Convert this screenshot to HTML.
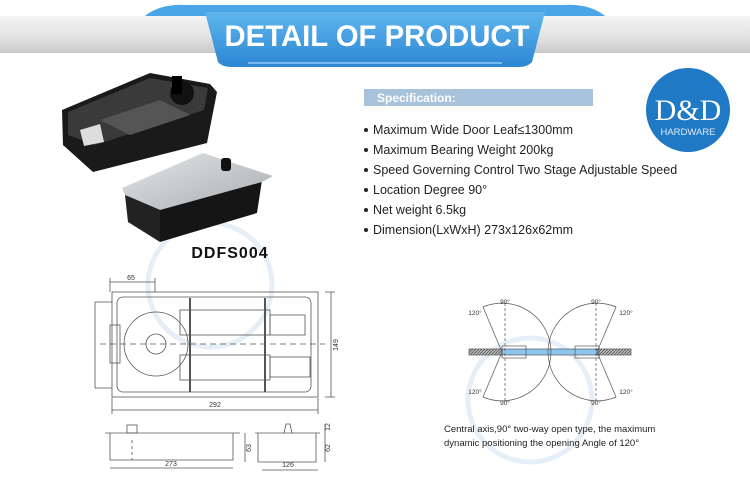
<!DOCTYPE html>
<html><head><meta charset="utf-8"><style>
body{margin:0;width:750px;height:500px;background:#fff;overflow:hidden}
svg{display:block}
</style></head><body>
<svg width="750" height="500" viewBox="0 0 750 500" xmlns="http://www.w3.org/2000/svg" font-family="Liberation Sans, sans-serif">
<defs>
<linearGradient id="gb" x1="0" y1="0" x2="0" y2="1"><stop offset="0" stop-color="#f4f4f4"/><stop offset="0.6" stop-color="#e2e2e2"/><stop offset="1" stop-color="#c8c8c8"/></linearGradient>
<linearGradient id="rb" x1="0" y1="0" x2="0" y2="1"><stop offset="0" stop-color="#5fb6ee"/><stop offset="1" stop-color="#2c86d2"/></linearGradient>
<linearGradient id="sv" x1="0" y1="0" x2="1" y2="1"><stop offset="0" stop-color="#e4e6e8"/><stop offset="1" stop-color="#a9adb1"/></linearGradient>
<pattern id="hat" width="3" height="3" patternUnits="userSpaceOnUse"><rect width="3" height="3" fill="#bbb"/><path d="M0 3L3 0" stroke="#555" stroke-width="0.8"/></pattern>
</defs>
<!-- header -->
<path d="M145 16 Q160 4 185 5 L565 5 Q590 4 605 16Z" fill="#4aa6e6"/>
<rect x="0" y="16" width="750" height="37" fill="url(#gb)"/>
<path d="M205 12 L545 12 L532 62 Q528 67 518 67 L232 67 Q222 67 218 62Z" fill="url(#rb)"/>
<path d="M145 16 Q160 4 185 5 L205 12 L205 16Z M605 16 Q590 4 565 5 L545 12 L545 16Z" fill="#4aa6e6"/>
<rect x="248" y="62" width="254" height="2" fill="#8fd0f7" opacity="0.7"/>
<text x="377" y="46" text-anchor="middle" font-size="30" font-weight="bold" fill="#fff" textLength="305" lengthAdjust="spacingAndGlyphs">DETAIL OF PRODUCT</text>
<!-- watermark -->
<circle cx="210" cy="285" r="62" fill="none" stroke="#e6eff8" stroke-width="5"/>
<circle cx="530" cy="400" r="62" fill="none" stroke="#e6eff8" stroke-width="5"/>
<!-- dark product -->
<path d="M62 110 L150 73 L210 84 L217 92 L207 143 L93 172 L63 145Z" fill="#1a1a1a"/>
<path d="M68 112 L150 78 L208 88 L204 110 L95 145 L68 135Z" fill="#3a3a3a"/>
<path d="M100 120 L160 100 L190 115 L130 135Z" fill="#555"/>
<path d="M80 130 L100 124 L104 142 L84 146Z" fill="#ddd"/>
<circle cx="182" cy="93" r="12" fill="#111"/><rect x="172" y="76" width="10" height="18" fill="#000"/>
<!-- silver product -->
<path d="M125 192 L160 242 L257 213 L262 180 Z" fill="#151515"/>
<path d="M122 188 L203 153 L273 176 L262 182 L160 210 L125 195Z" fill="url(#sv)"/>
<path d="M125 195 L160 210 L160 242 L128 222Z" fill="#222"/>
<rect x="221" y="158" width="10" height="13" rx="3" fill="#111"/>
<text x="230" y="258" text-anchor="middle" font-size="16" font-weight="bold" fill="#111" letter-spacing="1">DDFS004</text>
<!-- spec -->
<rect x="364" y="89" width="229" height="17" fill="#a7c2da"/>
<text x="377" y="102" font-size="12" font-weight="bold" fill="#fff">Specification:</text>
<g font-size="12.5" fill="#222">
<text x="373" y="134">Maximum Wide Door Leaf≤1300mm</text>
<text x="373" y="154">Maximum Bearing Weight 200kg</text>
<text x="373" y="174">Speed Governing Control Two Stage Adjustable Speed</text>
<text x="373" y="194">Location Degree 90°</text>
<text x="373" y="214">Net weight 6.5kg</text>
<text x="373" y="234">Dimension(LxWxH) 273x126x62mm</text>
</g>
<g fill="#222"><circle cx="366" cy="130" r="2"/><circle cx="366" cy="150" r="2"/><circle cx="366" cy="170" r="2"/><circle cx="366" cy="190" r="2"/><circle cx="366" cy="210" r="2"/><circle cx="366" cy="230" r="2"/></g>
<!-- logo -->
<circle cx="688" cy="110" r="42" fill="#1f79c4"/>
<text x="688" y="120" text-anchor="middle" font-family="Liberation Serif, serif" font-size="30" fill="#fff">D&amp;D</text>
<text x="688" y="135" text-anchor="middle" font-size="9.5" fill="#dfeaf5">HARDWARE</text>
<!-- top view drawing -->
<g fill="none" stroke="#555" stroke-width="0.8">
<rect x="112" y="292" width="206" height="105"/>
<rect x="117" y="297" width="194" height="95" rx="6"/>
<path d="M95 302 V388 M95 302 H112 M95 388 H112"/>
<rect x="110" y="325" width="10" height="38"/>
<circle cx="156" cy="344" r="32"/><circle cx="156" cy="344" r="10"/>
<rect x="180" y="310" width="90" height="25"/><rect x="180" y="355" width="90" height="25"/>
<rect x="270" y="315" width="35" height="20"/><rect x="270" y="357" width="40" height="20"/>
<path d="M190 298 V392 M265 298 V392" stroke-width="2"/>
<path d="M100 344 H325" stroke-dasharray="6 4"/>
<path d="M110 282 H155 M110 278 V292 M155 278 V292"/>
<path d="M325 292 H335 M325 397 H335 M331 292 V397"/>
<path d="M112 410 H318 M112 398 V414 M318 398 V414"/>
<path d="M105 433 H240 M110 433 V460 H233 V433"/><rect x="127" y="425" width="10" height="8"/>
<path d="M132 440 V460" stroke-dasharray="3 3"/>
<path d="M110 468 H233 M245 433 V462"/>
<path d="M255 433 H320 M258 433 V462 H316 V433"/><path d="M284 433 L286 424 L290 424 L292 433"/>
<path d="M262 470 H318 M325 433 V462 M325 424 V433"/>
</g>
<g font-size="7" fill="#333" text-anchor="middle">
<text x="131" y="280">65</text><text x="215" y="407">292</text>
<text x="338" y="345" transform="rotate(-90 338 345)">149</text>
<text x="171" y="466">273</text><text x="288" y="467">126</text>
<text x="251" y="448" transform="rotate(-90 251 448)">63</text>
<text x="330" y="448" transform="rotate(-90 330 448)">62</text>
<text x="330" y="427" transform="rotate(-90 330 427)">12</text>
</g>
<!-- door diagram -->
<g fill="none" stroke="#555" stroke-width="0.7">
<rect x="469" y="349" width="33" height="6" fill="url(#hat)"/><rect x="597" y="349" width="34" height="6" fill="url(#hat)"/>
<rect x="502" y="349" width="95" height="6" fill="#8cc6ea" stroke="#557"/>
<rect x="502" y="346" width="24" height="12"/><rect x="575" y="346" width="24" height="12"/>
<path d="M502 352 L483 307 A49 49 0 0 1 551 352 A49 49 0 0 1 483 397 Z"/>
<path d="M597 352 L616 307 A49 49 0 0 0 548 352 A49 49 0 0 0 616 397 Z"/>
<path d="M505 303 V401 M596 303 V401" stroke-dasharray="3 2"/>
</g>
<g font-size="6.5" fill="#333" text-anchor="middle">
<text x="505" y="304">90°</text><text x="596" y="304">90°</text>
<text x="475" y="315">120°</text><text x="626" y="315">120°</text>
<text x="475" y="394">120°</text><text x="626" y="394">120°</text>
<text x="505" y="405">90°</text><text x="596" y="405">90°</text>
</g>
<g font-size="9.5" fill="#222">
<text x="444" y="432">Central axis,90° two-way open type, the maximum</text>
<text x="444" y="446">dynamic positioning the opening Angle of 120°</text>
</g>
</svg>
</body></html>
